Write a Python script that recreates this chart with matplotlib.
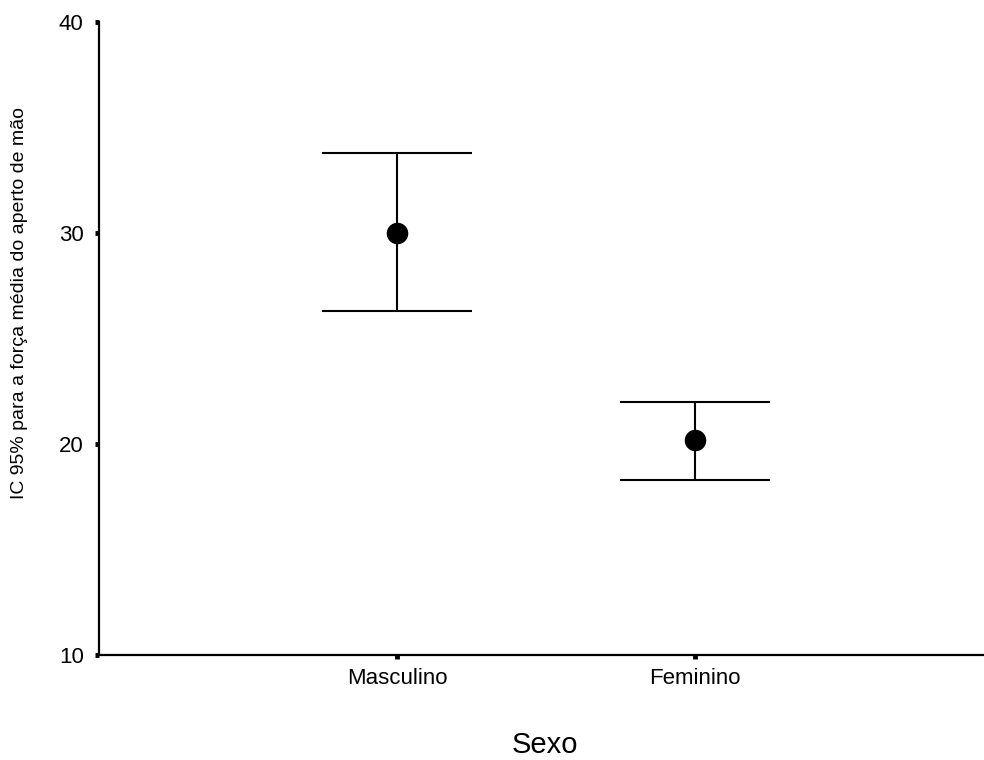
import matplotlib.pyplot as plt

plt.rcParams['font.family'] = ['Liberation Sans', 'DejaVu Sans']

sexo = ['Masculino', 'Feminino']
media = [30.0, 20.2]
ic_inf = [26.3, 18.3]
ic_sup = [33.8, 22.0]

fig = plt.figure(figsize=(9.84, 7.6), dpi=100)
ax = fig.add_axes([99 / 984, 1 - 655 / 760, 1 - 99 / 984, (655 - 22) / 760])

x = list(range(len(sexo)))
err = [[m - lo for m, lo in zip(media, ic_inf)],
       [hi - m for m, hi in zip(media, ic_sup)]]
ax.errorbar(x, media, yerr=err, fmt='o', color='black', ecolor='black',
            markersize=14.5, elinewidth=1.5, capsize=54, capthick=1.5)

ax.set_xlim(-1.0, 1.97)
ax.set_ylim(10, 40)
ax.set_yticks([10, 20, 30, 40])
ax.set_xticks(x)
ax.set_xticklabels(sexo)

for side in ['top', 'right']:
    ax.spines[side].set_visible(False)
for side in ['left', 'bottom']:
    ax.spines[side].set_linewidth(1.6)

ax.tick_params(axis='both', direction='out', length=3, width=3.5,
               labelsize=16, color='black')
ax.tick_params(axis='y', pad=8)
ax.tick_params(axis='x', pad=6)

fig.text(545 / 984, 1 - 745 / 760, 'Sexo', ha='center', va='center', fontsize=21)
fig.text(20 / 984, 1 - 303 / 760, 'IC 95% para a força média do aperto de mão',
         rotation=90, ha='center', va='center', fontsize=14)

fig.savefig('out.png', dpi=100)
